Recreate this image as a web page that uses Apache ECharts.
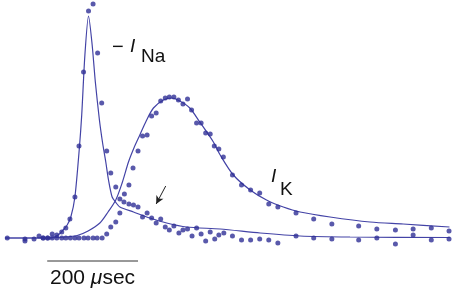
<!DOCTYPE html>
<html>
<head>
<meta charset="utf-8">
<script src="https://cdn.jsdelivr.net/npm/echarts@6/dist/echarts.min.js"></script>
<style>
  html, body { margin: 0; padding: 0; background: #fff; }
  #chart { width: 454px; height: 292px; }
</style>
</head>
<body>
<div id="chart"></div>
<script>
// time in microseconds, current in arbitrary units (baseline = 0)

// -I_Na measured points
const naDots = [
  [16, 0], [55, -1], [55, -3], [75, -1], [86, 2], [95, 0], [105, 0], [115, 4],
  [125, 3], [136, 6], [145, 10], [154, 19], [165, 41], [174, 92], [184, 166],
  [195, 227], [205, 234], [215, 185], [224, 135], [235, 87], [244, 65], [255, 51],
  [264, 39], [273, 36], [284, 34], [294, 33], [304, 31], [314, 21], [324, 25],
  [334, 20], [344, 15], [354, 19], [364, 11], [373, 8], [383, 12], [394, 5],
  [403, 8], [413, 9], [423, 2], [433, 10], [443, 4], [453, -3], [463, 6],
  [473, -1], [482, 3], [493, 5], [512, 2], [532, -2], [552, -2], [572, -1],
  [592, -2], [612, -5], [652, 2], [691, 0], [731, -1], [790, -2], [830, 0],
  [871, -6], [910, 3], [950, -2], [989, -1]
];

// I_K measured points
const kDots = [
  [95, 0], [105, 0], [115, 0], [125, 0], [136, 0], [145, 0], [155, 0], [165, 0],
  [174, 0], [185, 0], [194, 0], [205, 0], [214, 0], [225, 0], [235, 4], [244, 11],
  [255, 16], [264, 25], [274, 44], [284, 53], [293, 70], [304, 87], [314, 102],
  [324, 103], [334, 122], [344, 125], [354, 137], [364, 140], [373, 141], [383, 141],
  [393, 138], [403, 134], [413, 139], [422, 128], [433, 115], [443, 115], [453, 105],
  [463, 104], [472, 92], [482, 89], [492, 81], [512, 63], [532, 53], [552, 48],
  [572, 45], [592, 34], [612, 31], [652, 25], [691, 19], [731, 14], [790, 12],
  [830, 9], [871, 8], [910, 9], [950, 10], [989, 7]
];

// computed curves
const naCurve = [
  [11, 0], [110, 0], [128, 3], [139, 8], [148, 13], [156, 21], [165, 41], [175, 91],
  [180, 123], [187, 183], [195, 222], [203, 193], [210, 156], [219, 118], [226, 95],
  [233, 76], [239, 58], [247, 41], [256, 35], [264, 31], [294, 26], [330, 20],
  [367, 15], [411, 11], [485, 9], [573, 5], [661, 2], [771, 1], [991, 0.5]
];

const kCurve = [
  [11, 0], [88, 0], [143, 1], [170, 2.5], [194, 7], [220, 15], [238, 26], [255, 38],
  [269, 55], [283, 76], [295, 90], [308, 103], [322, 117], [338, 130], [360, 138],
  [378, 140], [396, 137], [418, 130], [440, 116], [470, 96], [485, 83], [514, 63],
  [551, 48], [587, 38], [624, 31], [661, 26], [727, 21], [815, 16], [888, 14], [990, 11]
];

// 200 usec scale bar and arrow, in data units
const scaleBar = [[104, -23], [304, -23]];
const arrow = [[365, 52], [344, 34]];

const blue = '#2f2f96';
const lineBlue = '#4343a6';
const font = '"Liberation Sans", Arial, sans-serif';

const chart = echarts.init(document.getElementById('chart'));

chart.setOption({
  animation: false,
  backgroundColor: '#fff',
  grid: { left: 0, right: 0, top: 4, bottom: 0 },
  xAxis: { type: 'value', min: 0, max: 1000, show: false },
  yAxis: { type: 'value', min: -54, max: 234, show: false },
  series: [
    {
      name: 'Na fit', type: 'line', data: naCurve, showSymbol: false, smooth: 0.25,
      lineStyle: { color: lineBlue, width: 1.2 }, silent: true, z: 2
    },
    {
      name: 'K fit', type: 'line', data: kCurve, showSymbol: false, smooth: 0.3,
      lineStyle: { color: lineBlue, width: 1.2 }, silent: true, z: 2
    },
    {
      name: 'Na', type: 'scatter', data: naDots, symbolSize: 5,
      itemStyle: { color: blue }, z: 3
    },
    {
      name: 'K', type: 'scatter', data: kDots, symbolSize: 5,
      itemStyle: { color: blue }, z: 3
    },
    {
      name: 'scale', type: 'line', data: scaleBar, showSymbol: false,
      lineStyle: { color: '#333', width: 1 }, silent: true,
      markLine: {
        silent: true,
        symbol: ['none', 'arrow'],
        symbolSize: [6, 8],
        label: { show: false },
        lineStyle: { color: '#222', width: 1, type: 'solid' },
        data: [[{ coord: arrow[0] }, { coord: arrow[1] }]]
      }
    }
  ],
  graphic: [
    {
      type: 'text', left: 112, top: 37,
      style: { text: '−', font: '20px ' + font, fill: '#111' }
    },
    {
      type: 'text', left: 130, top: 37,
      style: { text: 'I', font: 'italic 19px ' + font, fill: '#111' }
    },
    {
      type: 'text', left: 141, top: 47,
      style: { text: 'Na', font: '19px ' + font, fill: '#111' }
    },
    {
      type: 'text', left: 271, top: 167,
      style: { text: 'I', font: 'italic 19px ' + font, fill: '#111' }
    },
    {
      type: 'text', left: 280, top: 180,
      style: { text: 'K', font: '19px ' + font, fill: '#111' }
    },
    {
      type: 'text', left: 50, top: 268,
      style: {
        text: '200 {mu|μ}sec',
        font: '21px ' + font,
        fill: '#111',
        rich: { mu: { fontStyle: 'italic', fontSize: 21, fontFamily: font, fill: '#111' } }
      }
    }
  ]
});
</script>
</body>
</html>
